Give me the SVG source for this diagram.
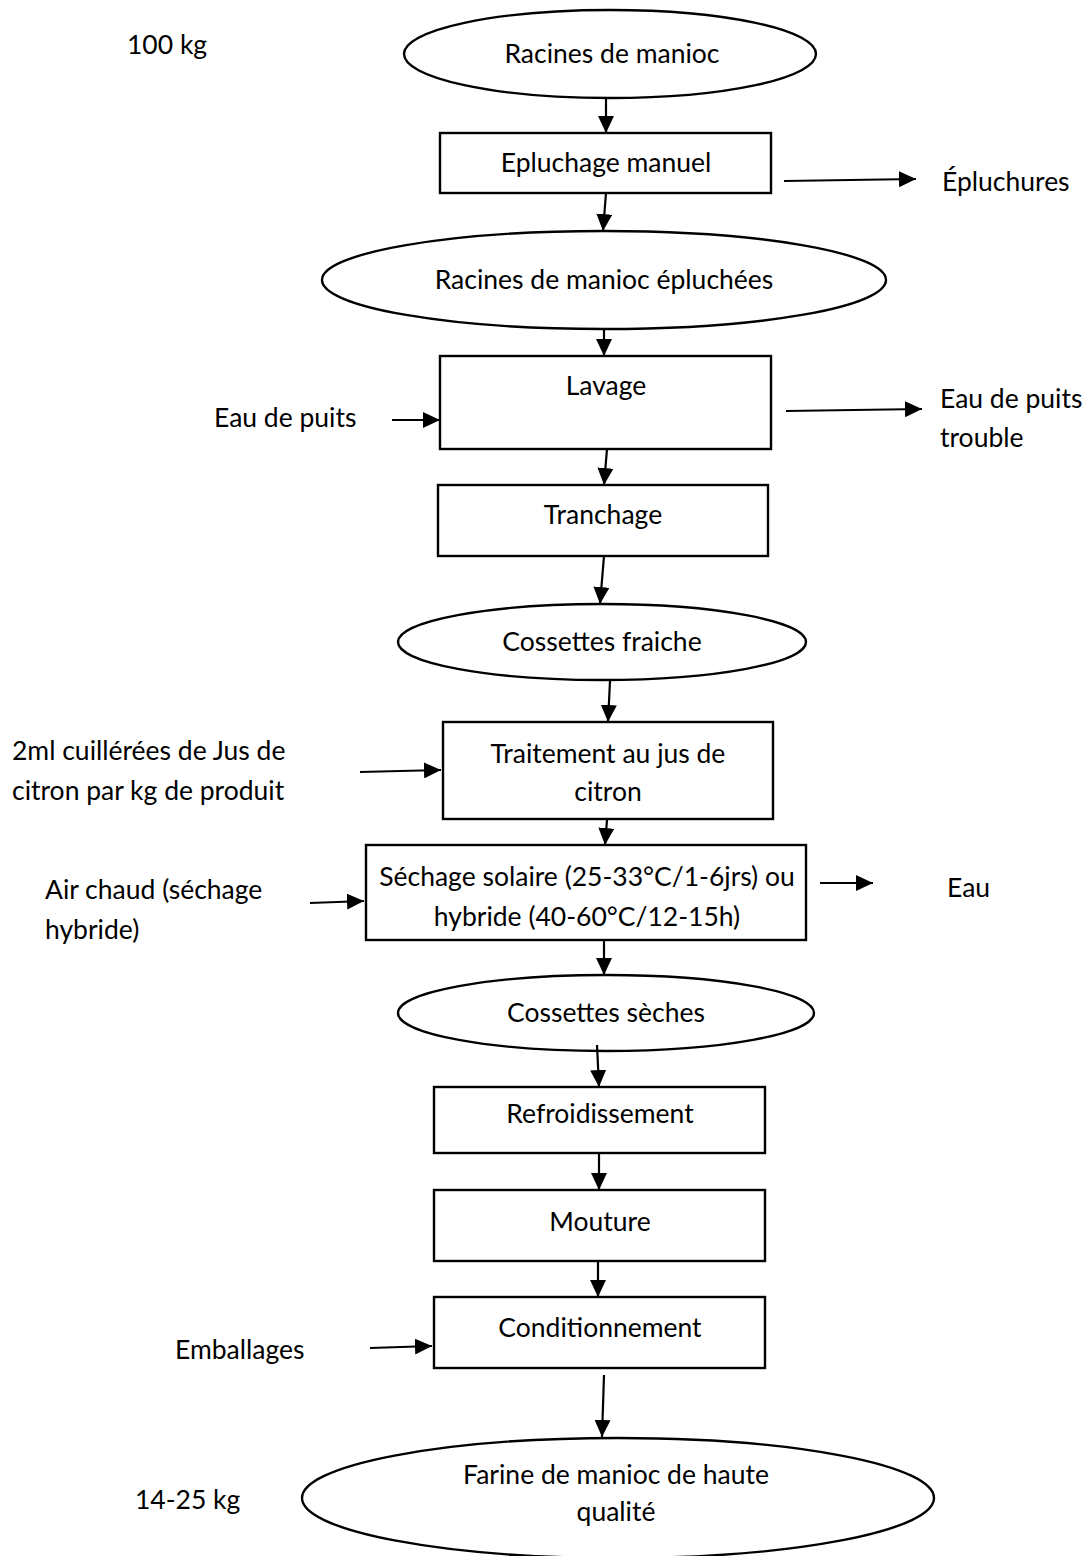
<svg xmlns="http://www.w3.org/2000/svg" width="1089" height="1556" viewBox="0 0 1089 1556">
  <style>
    .shape { fill: #ffffff; stroke: #000000; stroke-width: 2.4; }
    .lbl { font-family: Lato, "Liberation Sans", sans-serif; font-size: 26.5px; fill: #000000; }
    .mid { text-anchor: middle; }
    .conn line { stroke: #000000; stroke-width: 2.2; marker-end: url(#arrow); }
  </style>
  <defs>
    <marker id="arrow" viewBox="0 0 17 16" refX="17" refY="8" markerWidth="17" markerHeight="16" markerUnits="userSpaceOnUse" orient="auto">
      <path d="M0,0 L17,8 L0,16 Z" fill="#000000"/>
    </marker>
  </defs>
  <rect width="1089" height="1556" fill="#ffffff"/>

  <!-- mass labels -->
  <text class="lbl" x="127" y="54">100 kg</text>
  <text class="lbl" x="135" y="1509">14-25 kg</text>

  <!-- process nodes -->
  <g id="racines">
    <ellipse class="shape" cx="610" cy="54" rx="206" ry="44"/>
    <text class="lbl mid" x="612" y="63">Racines de manioc</text>
  </g>
  <g id="epluchage">
    <rect class="shape" x="440" y="133" width="331" height="60"/>
    <text class="lbl mid" x="606" y="172">Epluchage manuel</text>
  </g>
  <g id="epluchures">
    <text class="lbl" x="942" y="191">Épluchures</text>
  </g>
  <g id="racines-epluchees">
    <ellipse class="shape" cx="604" cy="280" rx="282" ry="49"/>
    <text class="lbl mid" x="604" y="289">Racines de manioc épluchées</text>
  </g>
  <g id="lavage">
    <rect class="shape" x="440" y="356" width="331" height="93"/>
    <text class="lbl mid" x="606" y="395">Lavage</text>
  </g>
  <g id="eau-puits">
    <text class="lbl" x="214" y="427">Eau de puits</text>
  </g>
  <g id="eau-trouble">
    <text class="lbl" x="940" y="408">Eau de puits</text>
    <text class="lbl" x="940" y="447">trouble</text>
  </g>
  <g id="tranchage">
    <rect class="shape" x="438" y="485" width="330" height="71"/>
    <text class="lbl mid" x="603" y="524">Tranchage</text>
  </g>
  <g id="cossettes-fraiche">
    <ellipse class="shape" cx="602" cy="642" rx="204" ry="38"/>
    <text class="lbl mid" x="602" y="651">Cossettes fraiche</text>
  </g>
  <g id="traitement">
    <rect class="shape" x="443" y="722" width="330" height="97"/>
    <text class="lbl mid" x="608" y="763">Traitement au jus de</text>
    <text class="lbl mid" x="608" y="801">citron</text>
  </g>
  <g id="jus-citron">
    <text class="lbl" x="12" y="760">2ml cuillérées de Jus de</text>
    <text class="lbl" x="12" y="800">citron par kg de produit</text>
  </g>
  <g id="sechage">
    <rect class="shape" x="366" y="845" width="440" height="95"/>
    <text class="lbl mid" x="587" y="886">Séchage solaire (25-33°C/1-6jrs) ou</text>
    <text class="lbl mid" x="587" y="926">hybride (40-60°C/12-15h)</text>
  </g>
  <g id="air-chaud">
    <text class="lbl" x="45" y="899">Air chaud (séchage</text>
    <text class="lbl" x="45" y="939">hybride)</text>
  </g>
  <g id="eau">
    <text class="lbl" x="947" y="897">Eau</text>
  </g>
  <g id="cossettes-seches">
    <ellipse class="shape" cx="606" cy="1013" rx="208" ry="38"/>
    <text class="lbl mid" x="606" y="1022">Cossettes sèches</text>
  </g>
  <g id="refroidissement">
    <rect class="shape" x="434" y="1087" width="331" height="66"/>
    <text class="lbl mid" x="600" y="1123">Refroidissement</text>
  </g>
  <g id="mouture">
    <rect class="shape" x="434" y="1190" width="331" height="71"/>
    <text class="lbl mid" x="600" y="1231">Mouture</text>
  </g>
  <g id="conditionnement">
    <rect class="shape" x="434" y="1297" width="331" height="71"/>
    <text class="lbl mid" x="600" y="1337">Conditionnement</text>
  </g>
  <g id="emballages">
    <text class="lbl" x="175" y="1359">Emballages</text>
  </g>
  <g id="farine">
    <ellipse class="shape" cx="618" cy="1498" rx="316" ry="60"/>
    <text class="lbl mid" x="616" y="1484">Farine de manioc de haute</text>
    <text class="lbl mid" x="616" y="1521">qualité</text>
  </g>

  <!-- connectors -->
  <g id="connectors" class="conn">
    <line x1="606" y1="98" x2="606" y2="133"/>
    <line x1="606" y1="193" x2="603" y2="231"/>
    <line x1="784" y1="181" x2="916" y2="179"/>
    <line x1="604" y1="329" x2="604" y2="356"/>
    <line x1="392" y1="420" x2="440" y2="420"/>
    <line x1="786" y1="411" x2="922" y2="409"/>
    <line x1="607" y1="449" x2="604" y2="485"/>
    <line x1="604" y1="556" x2="600" y2="604"/>
    <line x1="610" y1="681" x2="608" y2="722"/>
    <line x1="360" y1="772" x2="441" y2="770"/>
    <line x1="607" y1="820" x2="605" y2="845"/>
    <line x1="310" y1="903" x2="364" y2="901"/>
    <line x1="820" y1="883" x2="873" y2="883"/>
    <line x1="604" y1="940" x2="604" y2="975"/>
    <line x1="597" y1="1045" x2="599" y2="1087"/>
    <line x1="599" y1="1153" x2="599" y2="1190"/>
    <line x1="598" y1="1261" x2="598" y2="1297"/>
    <line x1="370" y1="1348" x2="432" y2="1346"/>
    <line x1="604" y1="1375" x2="602" y2="1437"/>
  </g>
</svg>
